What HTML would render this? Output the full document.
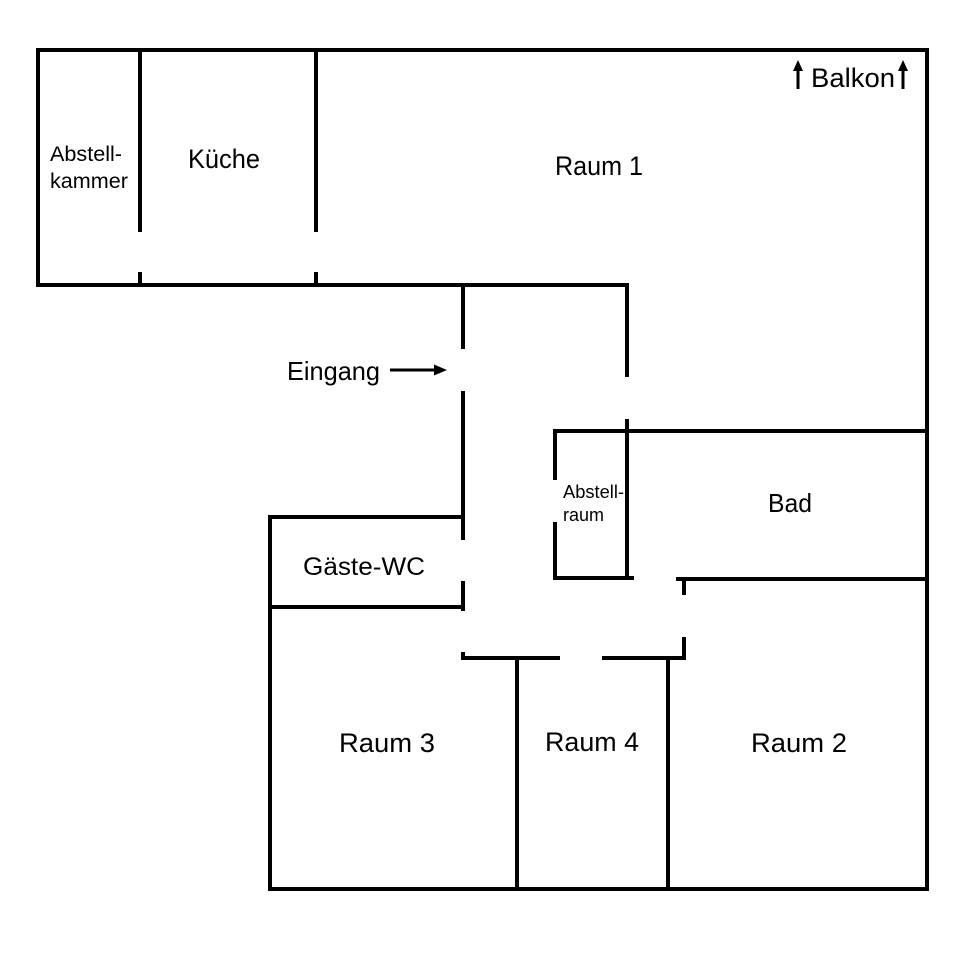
<!DOCTYPE html>
<html><head><meta charset="utf-8"><style>
html,body{margin:0;padding:0;background:#fff;}
svg{display:block;}
text{font-family:"Liberation Sans",sans-serif;fill:#000;}
</style></head><body>
<svg width="960" height="960" viewBox="0 0 960 960" xmlns="http://www.w3.org/2000/svg">
<rect width="960" height="960" fill="#fff"/>
<g stroke="#000" stroke-width="4" fill="none" stroke-linejoin="miter" stroke-linecap="butt">
<path d="M38,287 V50 H927 V889 H270 V517 H465"/>
<path d="M36,285 H627 V377"/>
<path d="M140,50 V232 M140,272 V285 M316,50 V232 M316,272 V285"/>
<path d="M463,285 V349 M463,391 V540 M463,581 V611"/>
<path d="M627,419 V578"/>
<path d="M555,480 V431 H927"/>
<path d="M555,522 V578 H634"/>
<path d="M676,579 H927"/>
<path d="M684,579 V595"/>
<path d="M684,637 V658 H602"/>
<path d="M463,652 V658 H560"/>
<path d="M270,607 H463"/>
<path d="M517,658 V889 M668,658 V889"/>
</g>
<g stroke="#000" stroke-width="3">
<line x1="798" y1="89" x2="798" y2="68"/>
<line x1="903" y1="89" x2="903" y2="68"/>
<line x1="390" y1="370" x2="436" y2="370"/>
</g>
<polygon points="798,60 793,71 803,71" fill="#000"/>
<polygon points="903,60 898,71 908,71" fill="#000"/>
<polygon points="447,370 434,364.5 434,375.5" fill="#000"/>
<text x="50" y="161" font-size="21" textLength="72" lengthAdjust="spacingAndGlyphs">Abstell-</text>
<text x="50" y="188" font-size="21" textLength="78" lengthAdjust="spacingAndGlyphs">kammer</text>
<text x="188" y="168" font-size="27" textLength="72" lengthAdjust="spacingAndGlyphs">Küche</text>
<text x="555" y="175" font-size="27" textLength="88" lengthAdjust="spacingAndGlyphs">Raum 1</text>
<text x="811" y="87" font-size="27" textLength="84" lengthAdjust="spacingAndGlyphs">Balkon</text>
<text x="287" y="380" font-size="26" textLength="93" lengthAdjust="spacingAndGlyphs">Eingang</text>
<text x="563" y="498" font-size="18" textLength="61" lengthAdjust="spacingAndGlyphs">Abstell-</text>
<text x="563" y="521" font-size="18" textLength="41" lengthAdjust="spacingAndGlyphs">raum</text>
<text x="768" y="512" font-size="26" textLength="44" lengthAdjust="spacingAndGlyphs">Bad</text>
<text x="303" y="575" font-size="25" textLength="122" lengthAdjust="spacingAndGlyphs">Gäste-WC</text>
<text x="339" y="752" font-size="27" textLength="96" lengthAdjust="spacingAndGlyphs">Raum 3</text>
<text x="545" y="751" font-size="27" textLength="94" lengthAdjust="spacingAndGlyphs">Raum 4</text>
<text x="751" y="752" font-size="27" textLength="96" lengthAdjust="spacingAndGlyphs">Raum 2</text>
</svg>
</body></html>
